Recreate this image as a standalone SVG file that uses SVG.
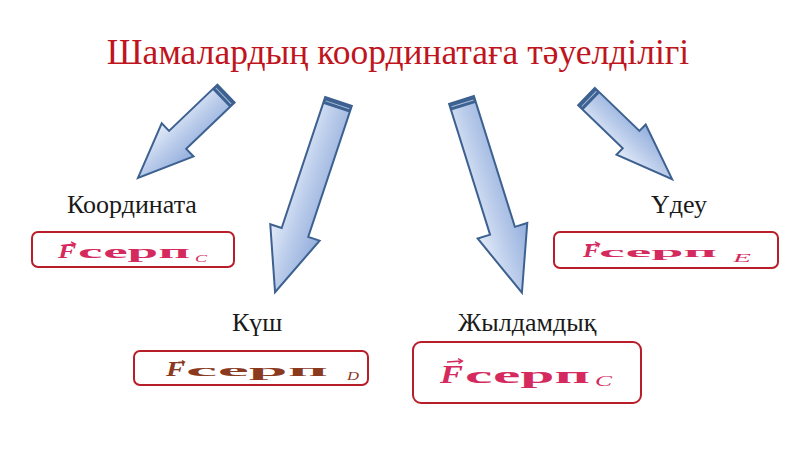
<svg xmlns="http://www.w3.org/2000/svg" width="800" height="450" viewBox="0 0 800 450">
<defs>
<linearGradient id="ag" x1="0" y1="0" x2="0" y2="1">
<stop offset="0" stop-color="#93aedc"/>
<stop offset="0.5" stop-color="#b9cbea"/>
<stop offset="1" stop-color="#e3ebf8"/>
</linearGradient>
<style>
.arrow{fill:url(#ag);stroke:#3d6190;stroke-width:2;stroke-linejoin:miter}
.cap{fill:#3d6190}
.capline{stroke:#a9bedd;stroke-width:1}
.box{fill:#ffffff;stroke:#b81e2a;stroke-width:2}
.lbl{font-family:"Liberation Serif",serif;font-size:26px;fill:#1a1a1a}
.title{font-family:"Liberation Serif",serif;font-size:35.5px;fill:#bf1520}
.fv{font-family:"Liberation Serif",serif;font-style:italic;font-weight:bold}
.fs{font-family:"Liberation Serif",serif;font-weight:bold}
.sub{font-family:"Liberation Serif",serif;font-style:italic}
.pink{fill:#d42a5e}
.brown{fill:#8a3b1f}
.vec{fill:none;stroke-width:1.3}
</style>
</defs>
<rect width="800" height="450" fill="#ffffff"/>
<text class="title" x="398" y="64" text-anchor="middle">Шамалардың координатаға тәуелділігі</text>

<g id="connectors">
<g transform="translate(226,93.5) rotate(136.2)">
<path class="arrow" d="M0,-12.4 L67,-12.4 L67,-23 L122,0 L67,23 L67,12.4 L0,12.4 Z"/>
<rect class="cap" x="0" y="-12.4" width="7" height="24.8"/>
<line class="capline" x1="3.5" y1="-11" x2="3.5" y2="11"/>
</g>
<g transform="translate(338.5,101.5) rotate(108.4)">
<path class="arrow" d="M0,-14 L138,-14 L138,-26 L201,0 L138,26 L138,14 L0,14 Z"/>
<rect class="cap" x="0" y="-14" width="7" height="28"/>
<line class="capline" x1="3.5" y1="-12.5" x2="3.5" y2="12.5"/>
</g>
<g transform="translate(461.5,100) rotate(72.6)">
<path class="arrow" d="M0,-13 L137,-13 L137,-26 L202,0 L137,26 L137,13 L0,13 Z"/>
<rect class="cap" x="0" y="-13" width="7" height="26"/>
<line class="capline" x1="3.5" y1="-11.5" x2="3.5" y2="11.5"/>
</g>
<g transform="translate(586.5,96.5) rotate(44)">
<path class="arrow" d="M0,-12 L62,-12 L62,-21 L119,0 L62,21 L62,12 L0,12 Z"/>
<rect class="cap" x="0" y="-12" width="7" height="24"/>
<line class="capline" x1="3.5" y1="-10.5" x2="3.5" y2="10.5"/>
</g>
</g>

<g id="node-koordinata">
<text class="lbl" x="67" y="213">Координата</text>
<rect class="box" x="32" y="232" width="202" height="35" rx="6"/>
<path class="vec" stroke="#d42a5e" d="M62,245.5 L75,244 M71,241.8 L75.5,244 L71.5,246.5"/>
<text class="fv pink" x="58" y="258" font-size="19" textLength="18" lengthAdjust="spacingAndGlyphs">F</text>
<text class="fs pink" x="78" y="258" font-size="19" textLength="112" lengthAdjust="spacingAndGlyphs">серп</text>
<text class="sub pink" x="195" y="262" font-size="11" textLength="12" lengthAdjust="spacingAndGlyphs">C</text>
</g>

<g id="node-udeu">
<text class="lbl" x="651" y="213">Үдеу</text>
<rect class="box" x="554" y="232" width="224" height="36" rx="6"/>
<path class="vec" stroke="#d42a5e" d="M586,245.5 L599,244 M595,241.8 L599.5,244 L595.5,246.5"/>
<text class="fv pink" x="583" y="257" font-size="18" textLength="17" lengthAdjust="spacingAndGlyphs">F</text>
<text class="fs pink" x="599" y="257" font-size="15" textLength="118" lengthAdjust="spacingAndGlyphs">серп</text>
<text class="sub pink" x="733" y="262" font-size="12" textLength="18" lengthAdjust="spacingAndGlyphs">E</text>
</g>

<g id="node-kush">
<text class="lbl" x="232" y="331">Күш</text>
<rect class="box" x="134" y="351" width="234" height="34" rx="6"/>
<path class="vec" stroke="#8a3b1f" d="M178,362.5 L184,362 M182,360.5 L184.5,362 L182,363.5"/>
<text class="fv brown" x="166" y="376" font-size="20" textLength="19" lengthAdjust="spacingAndGlyphs">F</text>
<text class="fs brown" x="186" y="376" font-size="17" textLength="142" lengthAdjust="spacingAndGlyphs">серп</text>
<text class="sub brown" x="347" y="380" font-size="12" textLength="12" lengthAdjust="spacingAndGlyphs">D</text>
</g>

<g id="node-zhyldamdyq">
<text class="lbl" x="458" y="331">Жылдамдық</text>
<rect class="box" x="413" y="342" width="228" height="61" rx="8"/>
<path class="vec" stroke="#d42a5e" d="M447,362 L462,361 M458,358.6 L462.5,361 L458.4,363.6"/>
<text class="fv pink" x="440" y="383" font-size="25" textLength="23" lengthAdjust="spacingAndGlyphs">F</text>
<text class="fs pink" x="465" y="383" font-size="24" textLength="125" lengthAdjust="spacingAndGlyphs">серп</text>
<text class="sub pink" x="595" y="386" font-size="15" textLength="17" lengthAdjust="spacingAndGlyphs">C</text>
</g>
</svg>
